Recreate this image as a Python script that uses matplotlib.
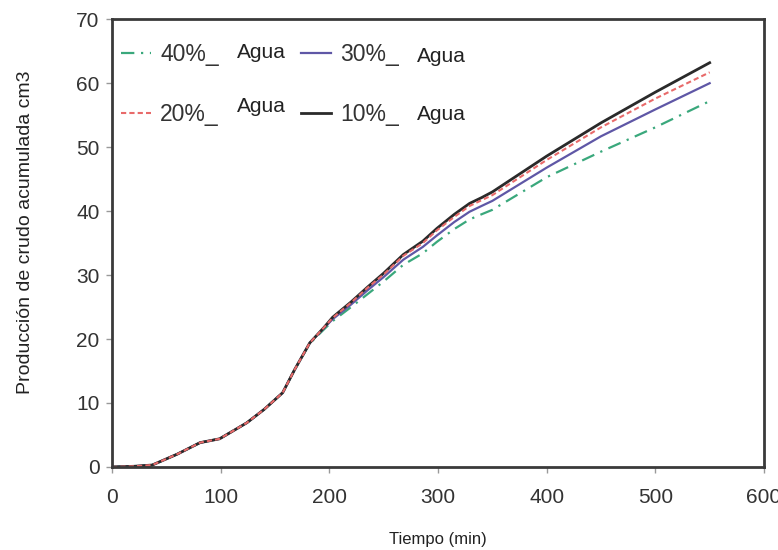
import matplotlib
matplotlib.use("Agg")
import matplotlib.pyplot as plt

plt.rcParams['font.family'] = ['Liberation Sans', 'DejaVu Sans']

tiempo = [0, 20, 37, 60, 81, 99, 124, 140, 157, 168, 182, 195, 203, 220, 235,
          250, 268, 286, 299, 315, 329, 340, 350, 400, 450, 500, 550]
agua10 = [0, 0.1, 0.3, 2.0, 3.8, 4.4, 6.9, 9.0, 11.6, 15.2, 19.4, 21.8, 23.4, 25.8, 28.1,
          30.3, 33.2, 35.3, 37.3, 39.5, 41.2, 42.1, 43.0, 48.6, 53.8, 58.6, 63.2]
agua20 = [0, 0.1, 0.3, 2.0, 3.8, 4.4, 6.9, 9.0, 11.6, 15.2, 19.4, 21.8, 23.3, 25.7, 28.0,
          30.1, 33.0, 35.0, 37.0, 39.1, 40.8, 41.7, 42.5, 48.0, 53.1, 57.6, 61.7]
agua30 = [0, 0.1, 0.3, 2.0, 3.8, 4.4, 6.9, 9.0, 11.6, 15.2, 19.4, 21.7, 23.1, 25.4, 27.6,
          29.7, 32.4, 34.4, 36.2, 38.3, 39.9, 40.8, 41.6, 46.8, 51.7, 55.9, 60.0]
agua40 = [0, 0.1, 0.3, 2.0, 3.8, 4.4, 6.9, 9.0, 11.6, 15.2, 19.3, 21.5, 22.8, 25.0, 27.0,
          29.0, 31.6, 33.4, 35.2, 37.2, 38.7, 39.5, 40.2, 45.3, 49.3, 53.1, 57.2]

fig = plt.figure(figsize=(7.78, 5.5), dpi=100)
ax = fig.add_axes([0.144, 0.151, 0.838, 0.814])

l40, = ax.plot(tiempo, agua40, color='#3aa87c', lw=1.6, ls=(0, (6, 3, 1, 3)))
l30, = ax.plot(tiempo, agua30, color='#5f57a6', lw=1.6)
l10, = ax.plot(tiempo, agua10, color='#2a2a2a', lw=2.0)
l20, = ax.plot(tiempo, agua20, color='#e86a6a', lw=1.5, ls=(0, (2.5, 1.5)))

ax.set_xlim(0, 600)
ax.set_ylim(0, 70)
ax.set_xticks([0, 100, 200, 300, 400, 500, 600])
ax.set_yticks([0, 10, 20, 30, 40, 50, 60, 70])
ax.tick_params(axis='both', labelsize=15, colors='#999999', labelcolor='#333333',
               length=4, width=1, direction='out')
ax.tick_params(axis='x', pad=11)
ax.tick_params(axis='y', pad=5)
for s in ax.spines.values():
    s.set_linewidth(2.0)
    s.set_color('#3a3a3a')

ax.set_xlabel('Tiempo (min)', fontsize=12, color='#222222', labelpad=18)
ax.set_ylabel('Producción de crudo acumulada cm3', fontsize=14, color='#222222', labelpad=30)
ax.yaxis.label.set_y(0.525)

leg = ax.legend([l40, l20, l30, l10], ['40%_', '20%_', '30%_', '10%_'], ncol=2,
                loc='upper left', bbox_to_anchor=(0.0, 0.967), frameon=False,
                fontsize=16.5, handlelength=1.3, handletextpad=0.4,
                columnspacing=3.6, labelspacing=1.6, borderaxespad=0.0,
                labelcolor='#333333')

fig.canvas.draw()
inv = fig.transFigure.inverted()
raise_px = {'40%_': 2, '20%_': 8, '30%_': -2, '10%_': 0}
for t in leg.get_texts():
    bb = t.get_window_extent()
    x0, y0 = inv.transform((bb.x1 + 18, (bb.y0 + bb.y1) / 2 + raise_px[t.get_text()]))
    fig.text(x0, y0, 'Agua', fontsize=15, color='#222222', va='center', ha='left')

fig.savefig('out.png', dpi=100)
